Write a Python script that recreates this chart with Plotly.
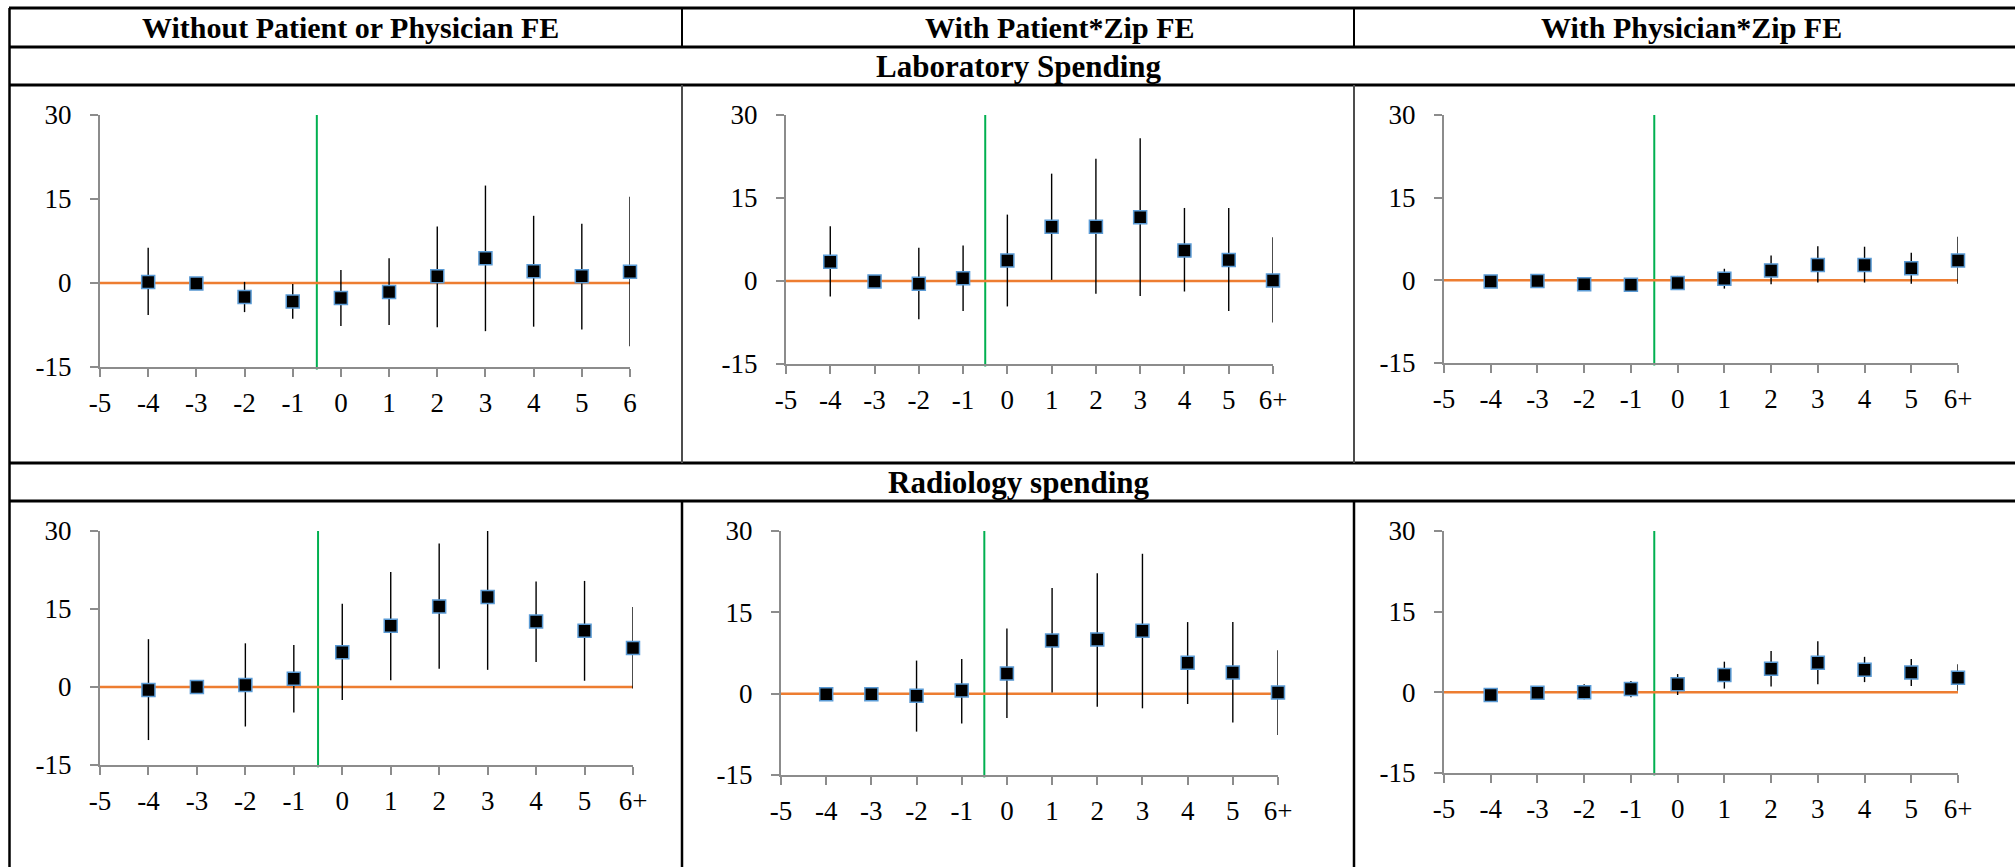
import plotly.graph_objects as go

W, H = 2015, 867

# ---------------- data ----------------
periods = [-4, -3, -2, -1, 0, 1, 2, 3, 4, 5, 6]
x_tick_vals = [-5, -4, -3, -2, -1, 0, 1, 2, 3, 4, 5, 6]
x_tick_text_plain = ['-5', '-4', '-3', '-2', '-1', '0', '1', '2', '3', '4', '5', '6']
x_tick_text_plus = ['-5', '-4', '-3', '-2', '-1', '0', '1', '2', '3', '4', '5', '6+']
y_tick_vals = [-15, 0, 15, 30]
y_tick_text = ['-15', '0', '15', '30']

column_titles = ['Without Patient or Physician FE', 'With Patient*Zip FE', 'With Physician*Zip FE']
row_titles = ['Laboratory Spending', 'Radiology spending']
event_x = -0.5

# Laboratory spending
lab_nofe_coef = [0.2, -0.1, -2.5, -3.3, -2.7, -1.6, 1.2, 4.4, 2.1, 1.2, 2.0]
lab_nofe_hi = [6.3, -0.1, 0.2, -0.2, 2.3, 4.4, 10.1, 17.4, 12.0, 10.6, 15.4]
lab_nofe_lo = [-5.7, -0.1, -5.2, -6.4, -7.7, -7.5, -7.9, -8.6, -7.8, -8.3, -11.3]

lab_pat_coef = [3.5, -0.1, -0.5, 0.5, 3.7, 9.8, 9.8, 11.5, 5.5, 3.8, 0.1]
lab_pat_hi = [9.9, -0.1, 6.0, 6.4, 12.0, 19.4, 22.1, 25.8, 13.2, 13.2, 7.9]
lab_pat_lo = [-2.8, -0.1, -6.9, -5.4, -4.6, 0.2, -2.3, -2.7, -1.9, -5.4, -7.5]

lab_phy_coef = [-0.2, -0.1, -0.7, -0.8, -0.5, 0.3, 1.8, 2.8, 2.8, 2.2, 3.6]
lab_phy_hi = [0.3, 0.4, -0.2, -0.3, 0.8, 2.1, 4.5, 6.2, 6.1, 5.0, 7.9]
lab_phy_lo = [-0.7, -0.6, -1.2, -1.3, -1.5, -1.5, -0.7, -0.4, -0.4, -0.6, -0.6]

# Radiology spending
rad_nofe_coef = [-0.6, 0.0, 0.4, 1.6, 6.7, 11.8, 15.5, 17.3, 12.6, 10.8, 7.5]
rad_nofe_hi = [9.2, 0.0, 8.4, 8.1, 16.0, 22.1, 27.6, 30.0, 20.3, 20.4, 15.4]
rad_nofe_lo = [-10.2, 0.0, -7.6, -4.9, -2.5, 1.3, 3.5, 3.3, 4.8, 1.2, -0.3]

rad_pat_coef = [-0.1, -0.1, -0.4, 0.6, 3.7, 9.8, 10.0, 11.6, 5.7, 3.9, 0.2]
rad_pat_hi = [-0.1, -0.1, 6.1, 6.4, 12.0, 19.5, 22.2, 25.8, 13.2, 13.2, 8.0]
rad_pat_lo = [-0.1, -0.1, -7.0, -5.5, -4.5, 0.2, -2.4, -2.7, -1.9, -5.3, -7.6]

rad_phy_coef = [-0.5, -0.1, 0.0, 0.6, 1.5, 3.2, 4.4, 5.5, 4.2, 3.7, 2.7]
rad_phy_hi = [-0.3, 0.3, 1.5, 2.1, 3.4, 5.7, 7.7, 9.5, 6.6, 6.2, 5.2]
rad_phy_lo = [-0.7, -0.5, -1.3, -0.9, -0.5, 0.7, 1.1, 1.5, 1.9, 1.2, 0.3]

panels_data = [
    (lab_nofe_coef, lab_nofe_hi, lab_nofe_lo, x_tick_text_plain),
    (lab_pat_coef, lab_pat_hi, lab_pat_lo, x_tick_text_plus),
    (lab_phy_coef, lab_phy_hi, lab_phy_lo, x_tick_text_plus),
    (rad_nofe_coef, rad_nofe_hi, rad_nofe_lo, x_tick_text_plus),
    (rad_pat_coef, rad_pat_hi, rad_pat_lo, x_tick_text_plus),
    (rad_phy_coef, rad_phy_hi, rad_phy_lo, x_tick_text_plus),
]

# ---------------- layout (pixel boxes of plot areas) ----------------
# (left, right, top, bottom) in pixels
panel_boxes = [
    (100, 630, 115, 367),
    (786, 1273, 115, 364),
    (1444, 1958, 115, 363),
    (100, 633, 531, 765),
    (781, 1278, 531, 775),
    (1444, 1958, 531, 773),
]

FONT = 'Liberation Serif'
AX_GRAY = '#8c8c8c'

fig = go.Figure()
layout = dict(
    width=W, height=H, autosize=False,
    margin=dict(l=0, r=0, t=0, b=0, pad=0, autoexpand=False),
    paper_bgcolor='white', plot_bgcolor='white',
    showlegend=False,
    font=dict(family=FONT, color='black', size=25),
)

shapes = []
annotations = []

for i, ((coef, hi, lo, xtt), (l, r, t, b)) in enumerate(zip(panels_data, panel_boxes), start=1):
    xa = 'x' if i == 1 else f'x{i}'
    ya = 'y' if i == 1 else f'y{i}'
    up = [h - c for h, c in zip(hi, coef)]
    dn = [c - lo_ for c, lo_ in zip(coef, lo)]
    fig.add_trace(go.Scatter(
        x=periods, y=coef, mode='markers', xaxis=xa, yaxis=ya,
        marker=dict(symbol='square', size=13, color='black',
                    line=dict(color='#5b9bd5', width=1.5)),
        error_y=dict(type='data', symmetric=False, array=up, arrayminus=dn,
                     color='black', thickness=1.4, width=0),
        cliponaxis=False, hoverinfo='skip',
    ))
    layout[f'xaxis{i}'] = dict(
        domain=[l / W, r / W], anchor=ya, range=[-5, 6],
        tickmode='array', tickvals=x_tick_vals, ticktext=xtt,
        showline=True, linecolor=AX_GRAY, linewidth=2,
        ticks='outside', ticklen=8, tickwidth=1.5, tickcolor=AX_GRAY,
        showgrid=False, zeroline=False, ticklabelstandoff=3,
        tickfont=dict(family=FONT, size=27, color='black'), fixedrange=True,
    )
    layout[f'yaxis{i}'] = dict(
        domain=[1 - b / H, 1 - t / H], anchor=xa, range=[-15, 30],
        tickmode='array', tickvals=y_tick_vals, ticktext=y_tick_text,
        showline=True, linecolor=AX_GRAY, linewidth=2,
        ticks='outside', ticklen=8, tickwidth=1.5, tickcolor=AX_GRAY,
        showgrid=False, zeroline=False, ticklabelstandoff=13,
        tickfont=dict(family=FONT, size=27, color='black'), fixedrange=True,
    )
    # zero line (orange)
    shapes.append(dict(type='line', xref=xa, yref=ya, x0=-5, x1=6, y0=0, y1=0,
                       line=dict(color='#ed7d31', width=2.5), layer='below'))
    # event line (green)
    shapes.append(dict(type='line', xref=xa, yref=f'{ya} domain', x0=event_x, x1=event_x,
                       y0=-0.01, y1=1.0, line=dict(color='#00b050', width=2), layer='below'))

# ---------------- table lines ----------------
def hline(y, x0=9, x1=W, w=3, c='black'):
    shapes.append(dict(type='line', xref='paper', yref='paper', x0=x0 / W, x1=x1 / W,
                       y0=1 - y / H, y1=1 - y / H, line=dict(color=c, width=w)))

def vline(x, y0, y1, w=2, c='black'):
    shapes.append(dict(type='line', xref='paper', yref='paper', x0=x / W, x1=x / W,
                       y0=1 - y0 / H, y1=1 - y1 / H, line=dict(color=c, width=w)))

hline(8)
hline(47)
hline(85)
hline(463)
hline(501)
vline(9.5, 8, H, w=2.5)
for xc in (682, 1354):
    vline(xc, 8, 47, w=2)
    vline(xc, 85, 463, w=2, c='#4d4d4d')
    vline(xc, 501, H, w=2.5)

# ---------------- header texts ----------------
col_centers = [350, 1059, 1691]
for txt, cx in zip(column_titles, col_centers):
    annotations.append(dict(text=f'<b>{txt}</b>', x=cx / W, y=1 - 27 / H, xref='paper', yref='paper',
                            xanchor='center', yanchor='middle', showarrow=False,
                            font=dict(family=FONT, size=30, color='black')))
for txt, cy in zip(row_titles, (66, 482)):
    annotations.append(dict(text=f'<b>{txt}</b>', x=1019 / W, y=1 - cy / H, xref='paper', yref='paper',
                            xanchor='center', yanchor='middle', showarrow=False,
                            font=dict(family=FONT, size=31, color='black')))

layout['shapes'] = shapes
layout['annotations'] = annotations
fig.update_layout(**layout)

fig.write_html('out.html',
               post_script="document.body.style.margin='0';document.body.style.padding='0';")
